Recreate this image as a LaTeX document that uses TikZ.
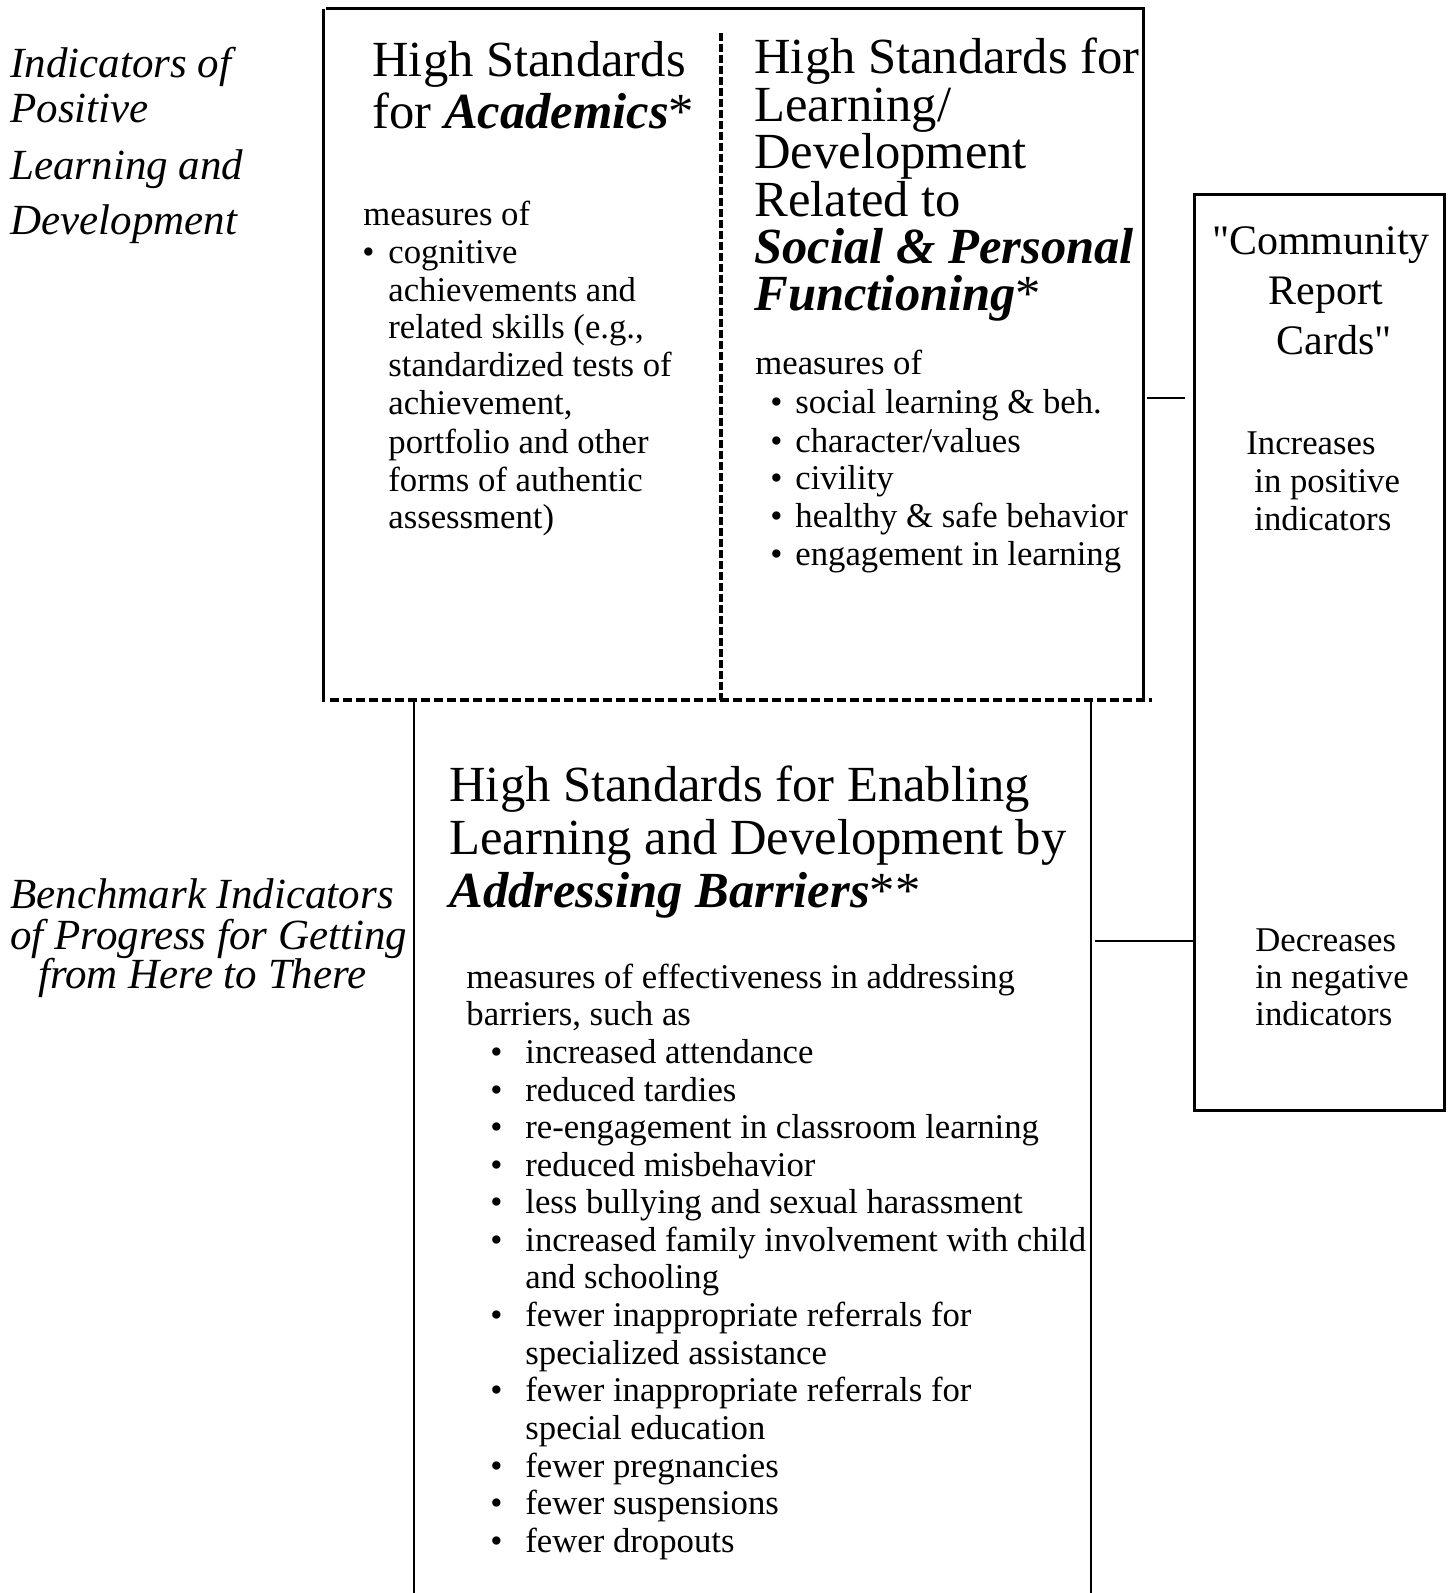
\documentclass[tikz,border=0pt]{standalone}
\usepackage{fontspec}
\setmainfont{Liberation Serif}
\newfontfamily\plainqfont{Liberation Serif}
\newcommand\sq{{\plainqfont"}}
\newcommand\hdrsize{\fontsize{25.3pt}{25.3pt}\selectfont}
\newcommand\bodysize{\fontsize{17.35pt}{17.35pt}\selectfont}
\newcommand\lblsize{\fontsize{21.5pt}{21.5pt}\selectfont\itshape}
\newcommand\crdsize{\fontsize{21pt}{21pt}\selectfont}
\newcommand\bix[1]{\textbf{\textit{#1}}}
\tikzset{
  txt/.style={inner sep=0pt, anchor=base west},
  ctxt/.style={inner sep=0pt, anchor=base},
  hdr/.style={txt, font=\hdrsize},
  bdy/.style={txt, font=\bodysize},
  lbl/.style={txt, font=\lblsize},
  heavy/.style={line width=1.5pt},
  light/.style={line width=1pt},
  hdash/.style={line width=1.8pt, dash pattern=on 4.5pt off 2pt},
  vdash/.style={line width=1.6pt, dash pattern=on 4pt off 1.5pt},
}
\begin{document}
\begin{tikzpicture}[x=0.5pt,y=-0.5pt]
\useasboundingbox (0,0) rectangle (1448,1593);
% ---------- top box ----------
\coordinate (tlT) at (323,9);
\coordinate (tlB) at (323,702);
\coordinate (topL) at (326,9);
\coordinate (topR) at (1145,9);
\coordinate (trT) at (1143,10);
\coordinate (trB) at (1143,700);
\coordinate (botL) at (330,700);
\coordinate (botR) at (1152,700);
\coordinate (midT) at (721,33);
\coordinate (midB) at (721,700);
\draw[heavy] (tlT) -- (tlB);
\draw[heavy] (topL) -- (topR);
\draw[heavy] (trT) -- (trB);
\draw[hdash] (botL) -- (botR);
\draw[vdash] (midT) -- (midB);
% ---------- lower box ----------
\coordinate (lbLT) at (414,701);
\coordinate (lbLB) at (414,1593);
\coordinate (lbRT) at (1091,701);
\coordinate (lbRB) at (1091,1593);
\draw[light] (lbLT) -- (lbLB);
\draw[light] (lbRT) -- (lbRB);
% ---------- right box ----------
\node[heavy, draw, inner sep=0pt, minimum width=125pt, minimum height=458pt, anchor=north west] (rc) at (1193,193) {};
\coordinate (c1a) at (1147,398);
\coordinate (c1b) at (1185,398);
\draw[light] (c1a) -- (c1b);
\coordinate (c2a) at (1095,941);
\draw[light] (c2a) -- (c2a -| rc.west);
% ---------- left labels ----------
\node[lbl] (l1) at (10,78) {Indicators of};
\node[lbl] (l2) at (10,123) {Positive};
\node[lbl] (l3) at (10,180) {Learning and};
\node[lbl] (l4) at (10,235) {Development};
\node[lbl] (l5) at (10,908) {Benchmark Indicators};
\node[lbl] (l6) at (10,949) {of Progress for Getting};
\node[lbl] (l7) at (38,988) {from Here to There};
% ---------- top-left column ----------
\node[hdr] (a1) at (372,77) {High Standards};
\node[hdr] (a2) at (372,129) {for \bix{Academics}*};
\node[bdy] (a3) at (363,226) {measures of};
\node[bdy] (ab) at (362,264) {\textbullet};
\node[bdy] (a4) at (388,264) {cognitive};
\node[bdy] (a5) at (388,302) {achievements and};
\node[bdy] (a6) at (388,339) {related skills (e.g.,};
\node[bdy] (a7) at (388,377) {standardized tests of};
\node[bdy] (a8) at (388,415) {achievement,};
\node[bdy] (a9) at (388,453) {portfolio and other};
\node[bdy] (a10) at (388,491) {forms of authentic};
\node[bdy] (a11) at (388,528) {assessment)};
% ---------- top-right column ----------
\node[hdr] (b1) at (754,74) {High Standards for};
\node[hdr] (b2) at (754,122) {Learning/};
\node[hdr] (b3) at (754,169) {Development};
\node[hdr] (b4) at (754,217) {Related to};
\node[hdr] (b5) at (754,264) {\bix{Social \& Personal}};
\node[hdr] (b6) at (754,311) {\bix{Functioning}*};
\node[bdy] (b7) at (755,375) {measures of};
\node[bdy] (bb1) at (770,414) {\textbullet};
\node[bdy] (b8) at (795,414) {social learning \& beh.};
\node[bdy] (bb2) at (770,452) {\textbullet};
\node[bdy] (b9) at (795,452) {character/values};
\node[bdy] (bb3) at (770,489) {\textbullet};
\node[bdy] (b10) at (795,489) {civility};
\node[bdy] (bb4) at (770,527) {\textbullet};
\node[bdy] (b11) at (795,527) {healthy \& safe behavior};
\node[bdy] (bb5) at (770,565) {\textbullet};
\node[bdy] (b12) at (795,565) {engagement in learning};
% ---------- lower box text ----------
\node[hdr] (c1) at (449,801) {High Standards for Enabling};
\node[hdr] (c2) at (449,854) {Learning and Development by};
\node[hdr] (c3) at (449,907) {\bix{Addressing Barriers}**};
\node[bdy] (c4) at (466,988) {measures of effectiveness in addressing};
\node[bdy] (c5) at (466,1025) {barriers, such as};
\node[bdy] (cb1) at (490,1063) {\textbullet};
\node[bdy] (d1) at (525,1063) {increased attendance};
\node[bdy] (cb2) at (490,1101) {\textbullet};
\node[bdy] (d2) at (525,1101) {reduced tardies};
\node[bdy] (cb3) at (490,1138) {\textbullet};
\node[bdy] (d3) at (525,1138) {re-engagement in classroom learning};
\node[bdy] (cb4) at (490,1176) {\textbullet};
\node[bdy] (d4) at (525,1176) {reduced misbehavior};
\node[bdy] (cb5) at (490,1213) {\textbullet};
\node[bdy] (d5) at (525,1213) {less bullying and sexual harassment};
\node[bdy] (cb6) at (490,1251) {\textbullet};
\node[bdy] (d6) at (525,1251) {increased family involvement with child};
\node[bdy] (d6b) at (525,1288) {and schooling};
\node[bdy] (cb7) at (490,1326) {\textbullet};
\node[bdy] (d7) at (525,1326) {fewer inappropriate referrals for};
\node[bdy] (d7b) at (525,1364) {specialized assistance};
\node[bdy] (cb8) at (490,1401) {\textbullet};
\node[bdy] (d8) at (525,1401) {fewer inappropriate referrals for};
\node[bdy] (d8b) at (525,1439) {special education};
\node[bdy] (cb9) at (490,1477) {\textbullet};
\node[bdy] (d9) at (525,1477) {fewer pregnancies};
\node[bdy] (cb10) at (490,1514) {\textbullet};
\node[bdy] (d10) at (525,1514) {fewer suspensions};
\node[bdy] (cb11) at (490,1552) {\textbullet};
\node[bdy] (d11) at (525,1552) {fewer dropouts};
% ---------- right box text ----------
\node[ctxt, font=\crdsize] (r1) at (1321,255) {\sq Community};
\node[ctxt, font=\crdsize] (r2) at (1326,305) {Report};
\node[ctxt, font=\crdsize] (r3) at (1334,355) {Cards\sq};
\node[bdy] (r4) at (1246,454) {Increases};
\node[bdy] (r5) at (1254,492) {in positive};
\node[bdy] (r6) at (1254,530) {indicators};
\node[bdy] (r7) at (1255,951) {Decreases};
\node[bdy] (r8) at (1255,988) {in negative};
\node[bdy] (r9) at (1255,1025) {indicators};
\end{tikzpicture}
\end{document}
